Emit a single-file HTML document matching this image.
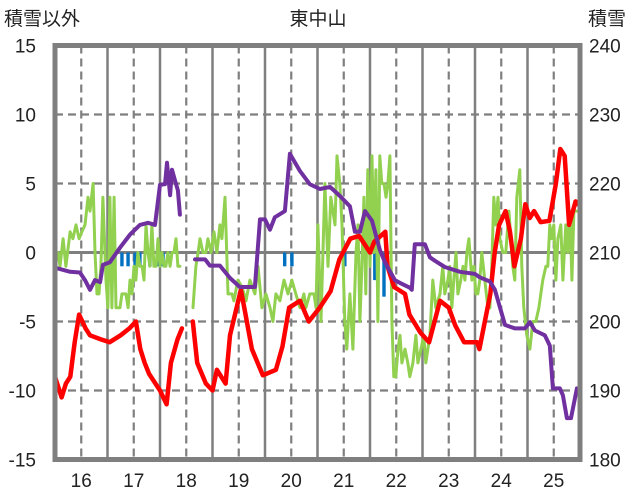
<!DOCTYPE html>
<html><head><meta charset="utf-8"><style>
html,body{margin:0;padding:0;background:#fff;}
svg{display:block;font-family:"Liberation Sans","Noto Sans CJK JP",sans-serif;}
</style></head><body>
<svg id="chart" width="636" height="501" viewBox="0 0 636 501" xmlns="http://www.w3.org/2000/svg">
<text x="4" y="25" font-size="19" fill="#222">積雪以外</text>
<text x="318" y="25" font-size="19" fill="#222" text-anchor="middle">東中山</text>
<text x="588" y="25" font-size="19" fill="#222">積雪</text>
<g id="grid"></g>
<g id="marks"></g>
<g id="axes"></g>
</svg>
<script>
const dayLabels=["16","17","18","19","20","21","22","23","24","25"];
const leftTicks=[15,10,5,0,-5,-10,-15];
const rightTicks=[240,230,220,210,200,190,180];
// red series (left axis), hours since start of day 16
const redHours=[0,3,5,7,9,11,14,16,21,25,30,34,37,39,41,43,48,51,53,56,58,null,63,65,69,72,74,78,80,85,87,90,95,101,104,107,112,116,121,126,130,135,139,144,146,151,152,155,160,162,167,171,176,180,183,187,193,194,199,201,203,206,208,210,213,215,217,219,222,226,229,231,233,235,238,239];
const redValues=[-9,-10.5,-9.5,-9,-6.5,-4.5,-5.5,-6,-6.3,-6.5,-6,-5.5,-5,-7,-8,-8.8,-10,-11,-8,-6.3,-5.5,null,-5,-8,-9.5,-10,-8.5,-9.5,-6,-2.7,-4.4,-7,-8.9,-8.5,-6.8,-4,-3.5,-5,-4,-2.8,-0.5,1,1.2,0,0.8,1.5,-1,-2.5,-3,-4.5,-5.8,-6.5,-3.5,-4,-5.3,-6.5,-6.5,-7,-3,0,2,3,1.5,-1,1,3.5,2.5,3,2.2,2.3,5,7.5,7,2,3.7,3.5];
// green series (left axis)
const greenHours=[0,1.4,2.3,3.7,5,6.9,8.2,9.6,11,12.3,13.7,15.1,16,17.4,18.3,19.2,20.1,21,21.9,23.3,24.2,25.1,26,27,27.9,28.8,29.7,30.6,31.5,32.4,33.4,34.3,35.2,36.1,37,37.9,38.8,39.8,40.7,41.6,42.5,43.4,44.3,45.2,46.2,47.1,48,48.9,49.8,50.7,51.6,52.6,53.5,54.4,55.3,56.2,57.1,null,
63.1,64.4,65.4,66.3,67.6,69,69.9,71.3,72.7,74,75.4,76.3,77.7,79.1,80.9,81.8,83.6,85.5,87.3,89.1,91.4,92.8,94.6,96.4,98.3,99.6,101,102.8,104.7,106.5,108.3,110.1,112,113.8,114.7,116.5,118.4,119.3,120.2,121.6,123.4,124.8,126.1,128,128.9,130.2,131.2,132.5,133.4,134.8,136.2,137.6,138.5,139.4,140.3,141.2,142.1,143,144,144.9,145.8,146.7,147.6,148.5,149.4,150.4,151.3,152.2,153.1,154,154.9,155.8,156.8,157.7,158.6,160,161.3,162.2,163.6,165,165.9,167.3,168.6,169.5,171.4,172.7,174.1,176,177.3,178.2,179.6,180.5,181.4,182.3,183.3,184.2,185.5,186.5,187.4,188.3,189.2,190.6,191.5,192.4,193.3,194.2,195.1,196.5,197.9,198.8,199.7,200.6,201.5,202.5,203.4,204.7,206.1,207.5,208.4,209.3,210.2,211.1,212.5,213.4,214.3,215.7,217.1,218.4,219.8,221.2,222.1,223,224.4,225.3,226.2,227.1,228,229,229.9,231.2,232.2,233.5,234.4,235.4,236.3,237.2,238.6];
const greenValues=[-1,0,-1,1,-1,1.5,1,2,1,1.5,2,4,3,5,0,-3,-3,-1,4,-2,-4,4,-4,4,-4,-4,-4,-3,-3,-3,-4,-2,-3,-1,-2,0,-1,-1,-2,2,0,-1,2,-1,-1,1,-1,0,-1,-1,0,-1,0,0,1,-1,-1,null,
-4,-1,0,1,0,0,1,0,1.5,0,2,1,4,-3,-3,-3.5,-2,-2.5,-3.5,-2,-3,-1,-4,-3,-4,-5,-3,-3.5,-2,-3,-2,-3,-4,-3,-4,-3,-3,-4,2,-5,5,-1,4,2,7,5,2,-5,-7,-3,-7,0,2,-5,-1,4,-3,6,-1,7,0,6,-5,7,5,5,4,5,7,-5,-9,-9,-7,-6,-8,-7,-8,-9,-8,-6,-8,-7,-6,-8,-6,-2,-4,-3,-1,-3,-2,-1,-4,-2,0,-3,-2,-1,-2,0,1,-2,-1,-3,-3,-2,0,-2,-4,-4,-1,4,2,4,1,0,0,3,1,-1,-2,4,6,-1,-4,-6,-7,-5,-5,-4,-3,-2,-1,-1,2,1,2,-2,1,2,-2,2,0,3,-2,3,3];
// purple snow depth (right axis)
const snowHours=[0,6.9,11.4,13.7,16,18.3,20.6,21.9,25.1,29.7,34.3,38.8,42.5,45.7,48,50.3,51.2,52.6,53.5,54.8,56.2,57.1,null,64,68.6,70.8,75.4,80,84.5,91.4,93.7,96,98.3,100.5,105.1,107.4,112,116.5,121.1,125.7,130.2,134.8,137.1,139.4,141.7,144.9,148.5,150.8,155.4,157.7,162.2,163.1,164.5,169.1,171.4,173.7,178.2,185.1,191.9,194.2,198.8,201.1,205.7,210.2,214.8,217.1,219.4,223.9,226.2,227.6,230.8,232.2,234,235.9,238.6];
const snowValues=[207.8,207.2,207.1,206,204.6,206,205.7,208.2,208.6,210.7,212.6,214,214.3,214,219.8,219.9,223,218.3,222,220.5,219,215.5,null,209,209,208.1,208.1,206.3,205,205,214.8,214.8,213.3,215.1,216,224.3,221.8,219.9,219.2,219.5,218.2,216.7,213,213,216,214.6,210.4,208.6,206,205.6,204.9,204.6,211.2,211.2,209.3,208.8,207.9,207.2,206.9,206.4,205.8,204.6,199.5,199,199,199.9,198.7,198,196.5,190.3,190.3,189.3,186,186,190.3];
// blue bars (left axis)
const barHours=[27.4,30.6,33.4,36.6,38.8,43.4,47.1,49.4,105,108.3,132.5,138.5,146.2,150.4];
const barValues=[-1,-1,-1,-1,-1,-1,-1,-1,-1,-1,-1,-0.7,-2,-3.2];

const X0=55,X1=580,Y0=45.5,Y1=459.5;
const NS="http://www.w3.org/2000/svg";
const xh=h=>X0+h*(X1-X0)/240;
const yL=v=>252.5-v*13.8;
const yR=r=>yL((r-210)/2);
function mk(tag,attrs,parent){const e=document.createElementNS(NS,tag);for(const k in attrs)e.setAttribute(k,attrs[k]);parent.appendChild(e);return e;}
const grid=document.getElementById('grid'),marks=document.getElementById('marks'),axes=document.getElementById('axes');
leftTicks.forEach(v=>{
  if(v===15||v===-15)return;
  const l=mk('line',{x1:X0,x2:X1,y1:yL(v),y2:yL(v),stroke:'#7f7f7f','stroke-width':v===0?3:2.2,'stroke-dasharray':v===0?'none':'8,5'},grid);
  
  
});
for(let d=0;d<10;d++){
  const xm=xh(d*24+12);
  const l=mk('line',{x1:xm,x2:xm,y1:Y0,y2:Y1,stroke:'#7f7f7f','stroke-width':2.2,'stroke-dasharray':'8,5'},grid);
  
  
  if(d>0){const xb=xh(d*24);
    const b=mk('line',{x1:xb,x2:xb,y1:Y0,y2:Y1,stroke:'#7f7f7f','stroke-width':2.5},grid);
    
    }
  const t=mk('text',{x:xm,y:487,'font-size':19,fill:'#222','text-anchor':'middle'},axes);
  t.textContent=dayLabels[d];
  
  
}
leftTicks.forEach(v=>{const t=mk('text',{x:36,y:yL(v)+7,'font-size':19,fill:'#222','text-anchor':'end'},axes);t.textContent=v;
  
  });
rightTicks.forEach(r=>{const t=mk('text',{x:589,y:yR(r)+7,'font-size':19,fill:'#222'},axes);t.textContent=r;
  
  });
const fr=mk('rect',{x:X0,y:Y0,width:X1-X0,height:Y1-Y0,fill:'none',stroke:'#7f7f7f','stroke-width':5},axes);


barHours.forEach((h,i)=>{const y0=yL(0),y1=yL(barValues[i]);
  const r=mk('rect',{x:xh(h)-1.7,y:Math.min(y0,y1),width:3.4,height:Math.abs(y1-y0),fill:'#0070C0'},marks);
  
  });
function line(hs,vs,ys,color,w,name){
  let d='',pen=false;
  hs.forEach((h,i)=>{if(h===null||vs[i]===null){pen=false;return;}d+=(pen?'L':'M')+xh(h).toFixed(1)+','+ys(vs[i]).toFixed(1);pen=true;});
  const p=mk('path',{d:d,fill:'none',stroke:color,'stroke-width':w,'stroke-linejoin':'round','stroke-linecap':'round'},marks);
  
  
}
line(greenHours,greenValues,yL,'#92D050',3,'green-series-line');
line(redHours,redValues,yL,'#FF0000',4.5,'temperature-line');
line(snowHours,snowValues,yR,'#7030A0',4,'snow-depth-line');
</script>
</body></html>
